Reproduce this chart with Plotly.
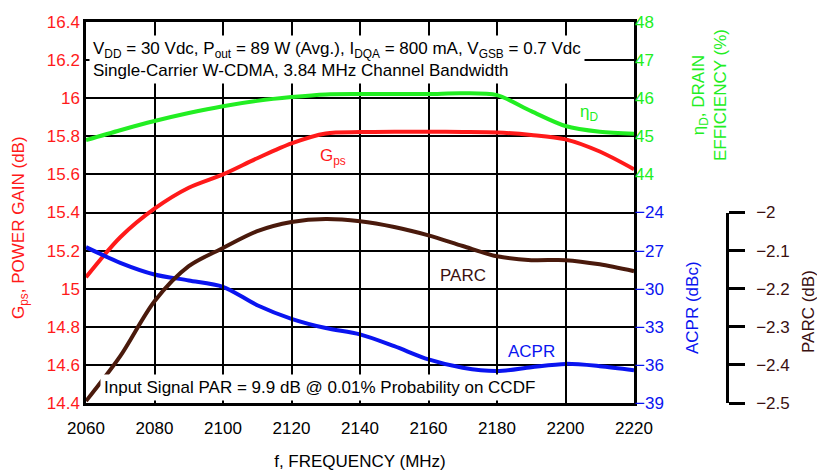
import plotly.graph_objects as go

# Frequency sweep (MHz)
freq = [2060, 2070, 2080, 2090, 2100, 2110, 2120, 2130, 2140, 2150,
        2160, 2170, 2180, 2190, 2200, 2210, 2220]

# Power gain Gps (dB)
gain = [15.06, 15.27, 15.42, 15.53, 15.60, 15.685, 15.763, 15.815, 15.822, 15.824,
        15.824, 15.823, 15.82, 15.807, 15.784, 15.72, 15.627]

# Drain efficiency (%)
eff = [44.90, 45.16, 45.40, 45.61, 45.79, 45.93, 46.03, 46.10, 46.11, 46.11,
       46.11, 46.13, 46.08, 45.66, 45.27, 45.12, 45.07]

# ACPR (dBc)
acpr = [-26.73, -27.96, -28.88, -29.35, -29.85, -31.3, -32.37, -33.1, -33.6, -34.53,
        -35.57, -36.23, -36.49, -36.18, -35.92, -36.10, -36.42]

# PARC (dB)
parc = [-2.495, -2.377, -2.233, -2.141, -2.093, -2.049, -2.025, -2.017, -2.023, -2.038,
        -2.060, -2.088, -2.115, -2.125, -2.125, -2.136, -2.154]

x_ticks = [2060, 2080, 2100, 2120, 2140, 2160, 2180, 2200, 2220]
gain_ticks = [14.4, 14.6, 14.8, 15.0, 15.2, 15.4, 15.6, 15.8, 16.0, 16.2, 16.4]
gain_labels = ["14.4", "14.6", "14.8", "15", "15.2", "15.4", "15.6", "15.8", "16", "16.2", "16.4"]
eff_ticks = [44, 45, 46, 47, 48]
acpr_ticks = [-39, -36, -33, -30, -27, -24]
parc_ticks = [-2.5, -2.4, -2.3, -2.2, -2.1, -2.0]
parc_labels = ["\u22122.5", "\u22122.4", "\u22122.3", "\u22122.2", "\u22122.1", "\u22122"]

RED = "#ff1a1a"
GREEN = "#22ee22"
BLUE = "#0a14f0"
BROWN = "#4a1a0c"
PARC_TXT = "#3a1010"
FONT = "Liberation Sans Narrow, Arial Narrow, Liberation Sans, Arial, sans-serif"

W, H = 817, 473
L, R, T, B = 86, 60, 22, 70
paper_w = W - L - R
paper_h = H - T - B
x_end = 548 / paper_w
parc_pos = (727 - L) / paper_w


def px(xpix):
    return (xpix - L) / paper_w


def py(ypix):
    return (H - B - ypix) / paper_h


SMOOTH = 0.85
fig = go.Figure()
fig.add_trace(go.Scatter(x=freq, y=gain, mode="lines",
                         line=dict(color=RED, width=4, shape="spline", smoothing=SMOOTH),
                         yaxis="y", showlegend=False))
fig.add_trace(go.Scatter(x=freq, y=eff, mode="lines",
                         line=dict(color=GREEN, width=4, shape="spline", smoothing=SMOOTH),
                         yaxis="y2", showlegend=False))
fig.add_trace(go.Scatter(x=freq, y=acpr, mode="lines",
                         line=dict(color=BLUE, width=4, shape="spline", smoothing=SMOOTH),
                         yaxis="y3", showlegend=False))
fig.add_trace(go.Scatter(x=freq, y=parc, mode="lines",
                         line=dict(color=BROWN, width=4, shape="spline", smoothing=SMOOTH),
                         yaxis="y4", showlegend=False))

fig.update_layout(
    width=W, height=H,
    margin=dict(l=L, r=R, t=T, b=B, autoexpand=False),
    paper_bgcolor="white", plot_bgcolor="rgba(0,0,0,0)",
    font=dict(family=FONT, size=17, color="black"),
    xaxis=dict(domain=[0, x_end], range=[2060, 2220], tickvals=x_ticks, automargin=False,
               showgrid=True, gridcolor="black", gridwidth=1.5,
               showline=True, linecolor="black", linewidth=2.5, mirror=True,
               ticks="", zeroline=False, tickfont=dict(size=17, color="black"),
               ticklabelstandoff=8,
               title=dict(text="f, FREQUENCY (MHz)", font=dict(size=17), standoff=18)),
    yaxis=dict(range=[14.4, 16.4], tickvals=gain_ticks, ticktext=gain_labels, automargin=False,
               showgrid=True, gridcolor="black", gridwidth=1.5,
               showline=True, linecolor="black", linewidth=2.5, mirror=True,
               ticks="", zeroline=False, tickfont=dict(size=17, color=RED)),
    yaxis2=dict(overlaying="y", side="right", anchor="x", range=[38, 48], tickvals=eff_ticks,
                automargin=False, showgrid=False, zeroline=False, showline=False, ticks="",
                tickfont=dict(size=17, color=GREEN)),
    yaxis3=dict(overlaying="y", side="right", anchor="x", range=[-39, -9], tickvals=acpr_ticks,
                ticktext=["\u2212" + str(abs(v)) for v in acpr_ticks], automargin=False,
                showgrid=False, zeroline=False, showline=False, ticks="",
                tickfont=dict(size=17, color=BLUE)),
    yaxis4=dict(domain=[0, 0.5], anchor="free", position=parc_pos, side="right",
                range=[-2.5, -2.0], tickvals=parc_ticks, ticktext=parc_labels, automargin=False,
                showgrid=False, zeroline=False, showline=True, linecolor="black", linewidth=2.5,
                ticks="outside", ticklen=16, tickwidth=2.5, tickcolor="black",
                ticklabelstandoff=8,
                tickfont=dict(size=17, color=PARC_TXT)),
)

# Axis titles
title_style = dict(xref="paper", yref="paper", textangle=-90, showarrow=False,
                   xanchor="center", yanchor="middle")
fig.add_annotation(x=px(20), y=py(228), text="G<sub>ps</sub>, POWER GAIN (dB)",
                   font=dict(size=17, color=RED), **title_style)
fig.add_annotation(x=px(710), y=py(95), text="\u03b7<sub>D</sub>, DRAIN<br>EFFICIENCY (%)",
                   font=dict(size=17, color=GREEN), **title_style)
fig.add_annotation(x=px(692), y=py(308), text="ACPR (dBc)",
                   font=dict(size=17, color=BLUE), **title_style)
fig.add_annotation(x=px(808), y=py(312), text="PARC (dB)",
                   font=dict(size=17, color=PARC_TXT), **title_style)

# Curve labels
label_style = dict(xref="x", yref="y", showarrow=False, xanchor="center", yanchor="middle")
fig.add_annotation(x=2132, y=15.69, text="G<sub>ps</sub>", font=dict(size=17, color=RED), **label_style)
fig.add_annotation(x=2207, y=15.92, text="\u03b7<sub>D</sub>", font=dict(size=17, color=GREEN), **label_style)
fig.add_annotation(x=2170, y=15.07, text="PARC", font=dict(size=17, color=PARC_TXT), **label_style)
fig.add_annotation(x=2190, y=14.67, text="ACPR", font=dict(size=17, color=BLUE), **label_style)

# Condition notes
fig.add_annotation(x=2060.8, y=16.33, xref="x", yref="y", xanchor="left", yanchor="top", align="left",
                   text="V<sub>DD</sub> = 30 Vdc, P<sub>out</sub> = 89 W (Avg.), I<sub>DQA</sub> = 800 mA, "
                        "V<sub>GSB</sub> = 0.7 Vdc<br>Single-Carrier W-CDMA, 3.84 MHz Channel Bandwidth",
                   showarrow=False, bgcolor="white", borderpad=3,
                   font=dict(size=17, color="black"))
fig.add_annotation(x=2064, y=14.41, xref="x", yref="y", xanchor="left", yanchor="bottom", align="left",
                   text="Input Signal PAR = 9.9 dB @ 0.01% Probability on CCDF",
                   showarrow=False, bgcolor="white", borderpad=3,
                   font=dict(size=17, color="black"))

fig.write_html("out.html")
